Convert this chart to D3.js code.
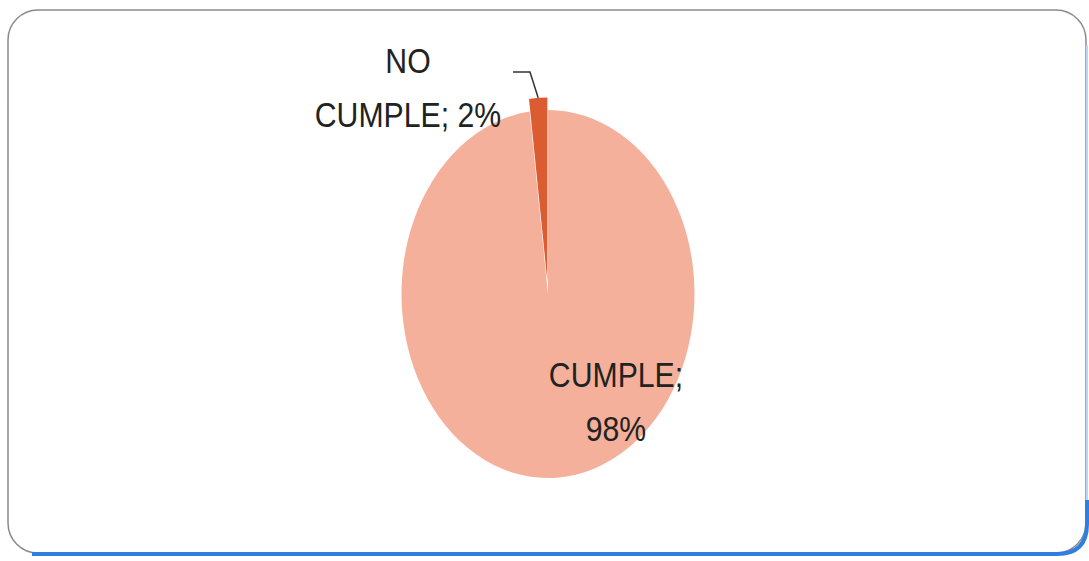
<!DOCTYPE html>
<html>
<head>
<meta charset="utf-8">
<script src="https://cdn.jsdelivr.net/npm/d3@7"></script>
<style>
  body { margin: 0; background: #fff; }
  text { font-family: "Liberation Sans", Arial, sans-serif; fill: #222; }
</style>
</head>
<body>
<script>
let width = 1089
let height = 561

// data
const categories = ["CUMPLE", "NO CUMPLE"]
const values = [98, 2]
const colors = ["#f4b09b", "#dc5c32"]

const svg = d3.select("body")
    .append('svg')
    .attr('width', width)
    .attr('height', height)

// frame
svg.append('rect')
    .attr('x', 8).attr('y', 10)
    .attr('width', 1078).attr('height', 543)
    .attr('rx', 30).attr('ry', 30)
    .attr('fill', '#fff')
    .attr('stroke', '#8a8a8a')
    .attr('stroke-width', 1.5)

svg.append('path')
    .attr('d', 'M1087,45 L1087,524 Q1087,554 1057,554 L32,554')
    .attr('fill', 'none')
    .attr('stroke', '#bcd6f5')
    .attr('stroke-width', 2)
svg.append('path')
    .attr('d', 'M1087,500 L1087,524 Q1087,554 1057,554 L32,554')
    .attr('fill', 'none')
    .attr('stroke', '#2f7fe0')
    .attr('stroke-width', 4)

// pie (scanned as ellipse)
const cx = 548, cy = 294, r = 146.5, ry = 184
const sy = ry / r
const explode = 10

const pie = d3.pie().sort(null).value(d => d)
const arcs = pie(values)
const arc = d3.arc().innerRadius(0).outerRadius(r)

const g = svg.append('g')
    .attr('transform', `translate(${cx},${cy}) scale(1,${sy})`)

g.selectAll('path')
    .data(arcs)
    .enter()
    .append('path')
        .attr('d', arc)
        .attr('fill', (d, i) => colors[i])
        .attr('transform', (d, i) => {
            if (i !== 1) return null
            let a = (d.startAngle + d.endAngle) / 2
            return `translate(${explode * Math.sin(a)},${-explode * Math.cos(a)})`
        })

// leader line for small slice
let small = arcs[1]
let mid = (small.startAngle + small.endAngle) / 2
let ex = cx + (r + explode) * Math.sin(mid)
let ey = cy - (r + explode) * Math.cos(mid) * sy
svg.append('path')
    .attr('d', `M513,72 L530,72 L${ex},${ey}`)
    .attr('fill', 'none')
    .attr('stroke', '#333')
    .attr('stroke-width', 1.5)

// labels (narrow, like the original Calibri)
function label(x, y, lines) {
    const t = svg.append('text')
        .attr('transform', `translate(${x},0) scale(0.84,1)`)
        .attr('text-anchor', 'middle')
        .style('font-size', '36px')
    lines.forEach((s, i) => {
        t.append('tspan').attr('x', 0).attr('y', y + i * 54).text(s)
    })
}
label(408, 73, ["NO", categories[1].replace("NO ", "") + "; " + values[1] + "%"])
label(616, 387, [categories[0] + ";", values[0] + "%"])
</script>
</body>
</html>
